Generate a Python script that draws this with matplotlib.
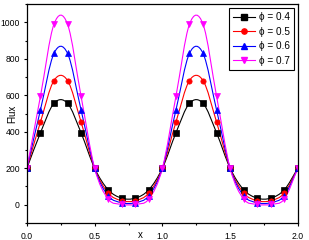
import numpy as np
import matplotlib
matplotlib.use("Agg")
import matplotlib.pyplot as plt
from matplotlib.path import Path
from matplotlib.patches import PathPatch
from matplotlib.lines import Line2D

plt.rcParams['font.family'] = ['Liberation Sans', 'DejaVu Sans']

x = [0.0, 0.1, 0.2, 0.3, 0.4, 0.5, 0.6, 0.7, 0.8, 0.9, 1.0,
     1.1, 1.2, 1.3, 1.4, 1.5, 1.6, 1.7, 1.8, 1.9, 2.0]
flux_04 = [200, 394, 556, 556, 394, 200, 82, 36, 36, 82, 200,
           394, 556, 556, 394, 200, 82, 36, 36, 82, 200]
flux_05 = [200, 453, 681, 681, 453, 200, 64, 22, 22, 64, 200,
           453, 681, 681, 453, 200, 64, 22, 22, 64, 200]
flux_06 = [200, 519, 830, 830, 519, 200, 49, 11, 11, 49, 200,
           519, 830, 830, 519, 200, 49, 11, 11, 49, 200]
flux_07 = [200, 594, 990, 990, 594, 200, 31, 2, 2, 31, 200,
           594, 990, 990, 594, 200, 31, 2, 2, 31, 200]
labels = ['ϕ = 0.4', 'ϕ = 0.5', 'ϕ = 0.6', 'ϕ = 0.7']
colors = ['black', '#FF0000', '#0000FF', '#FF00FF']
markers = ['s', 'o', '^', 'v']
series = [flux_04, flux_05, flux_06, flux_07]


def spline_path(xs, ys):
    P = np.column_stack([xs, ys]).astype(float)
    ext = np.vstack([2 * P[0] - P[1], P, 2 * P[-1] - P[-2]])
    verts = [P[0]]
    codes = [Path.MOVETO]
    for i in range(len(P) - 1):
        p0, p1, p2, p3 = ext[i], ext[i + 1], ext[i + 2], ext[i + 3]
        verts += [p1 + (p2 - p0) / 6, p2 - (p3 - p1) / 6, p2]
        codes += [Path.CURVE4] * 3
    return Path(verts, codes)


fig = plt.figure(figsize=(3.09, 2.40), dpi=100)
ax = fig.add_axes([0.087, 0.071, 0.877, 0.912])

handles = []
for ys, c, m, lab in zip(series, colors, markers, labels):
    ax.add_patch(PathPatch(spline_path(x, ys), facecolor='none',
                           edgecolor=c, lw=0.8))
    ax.plot(x, ys, linestyle='none', marker=m, color=c, markersize=3.8,
            markeredgewidth=0.5)
    handles.append(Line2D([], [], color=c, marker=m, lw=0.8,
                          markersize=3.8, label=lab))

ax.set_xlim(0, 2.0)
ax.set_ylim(-100, 1100)
ax.set_xticks([0.0, 0.5, 1.0, 1.5, 2.0])
ax.set_xticks([0.25, 0.75, 1.25, 1.75], minor=True)
ax.set_yticks([0, 200, 400, 600, 800, 1000])
ax.set_yticks([-100, 100, 300, 500, 700, 900, 1100], minor=True)
ax.xaxis.set_major_formatter(matplotlib.ticker.FormatStrFormatter('%.1f'))
ax.tick_params(which='major', direction='out', length=2.5, width=0.8,
               labelsize=6.2, pad=2.5)
ax.tick_params(which='minor', direction='out', length=1.5, width=0.8)
ax.tick_params(axis='x', which='major', pad=4)
for s in ax.spines.values():
    s.set_linewidth(0.9)

ax.set_xlabel('x', fontsize=7)
ax.xaxis.set_label_coords(0.42, -0.055)
ax.xaxis.label.set_va('center')
ax.set_ylabel('Flux', fontsize=7)
ax.yaxis.set_label_coords(-0.053, 0.50)
ax.yaxis.label.set_va('center')

leg = ax.legend(handles=handles, loc='upper right',
                bbox_to_anchor=(0.985, 0.982), borderaxespad=0,
                fontsize=7.2, fancybox=False, framealpha=1,
                edgecolor='black', handlelength=2.2, handletextpad=0.4,
                labelspacing=0.45, borderpad=0.4)
leg.get_frame().set_linewidth(0.8)

fig.savefig('out.png', dpi=100)
